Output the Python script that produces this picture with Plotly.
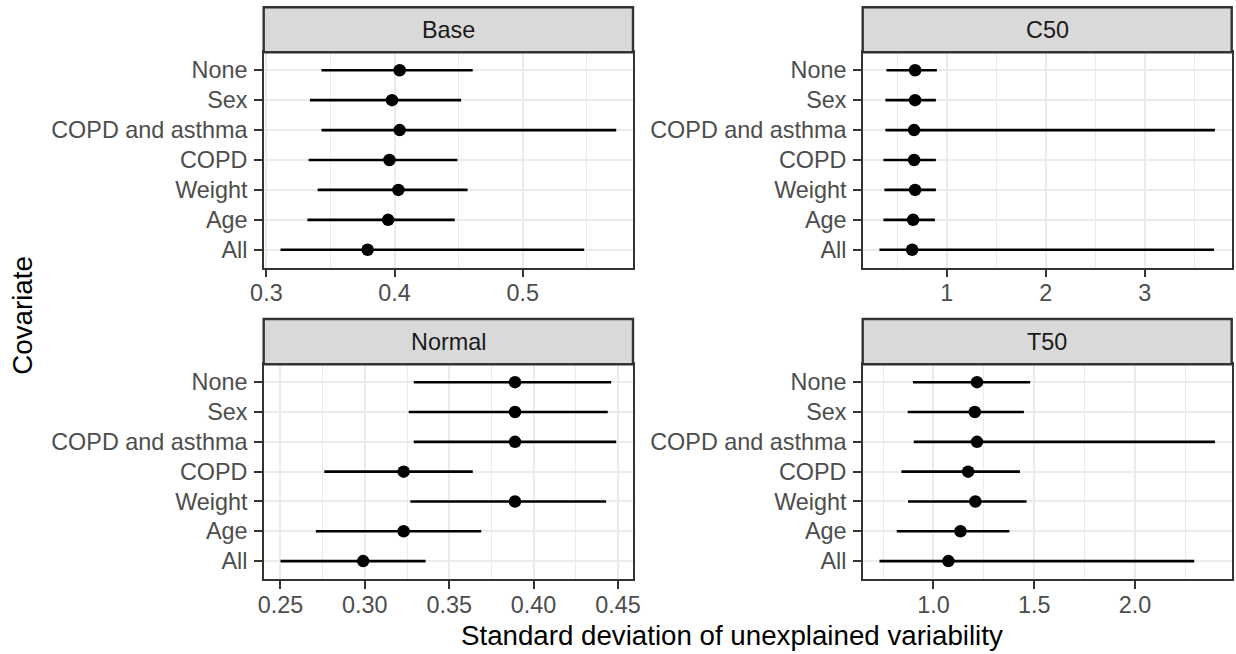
import plotly.graph_objects as go

W, H = 1236, 654

covariates = ["None", "Sex", "COPD and asthma", "COPD", "Weight", "Age", "All"]

base_est = [0.404, 0.398, 0.404, 0.396, 0.403, 0.395, 0.379]
base_lo = [0.343, 0.334, 0.343, 0.333, 0.340, 0.332, 0.311]
base_hi = [0.461, 0.452, 0.573, 0.449, 0.457, 0.447, 0.548]

c50_est = [0.68, 0.68, 0.67, 0.67, 0.68, 0.66, 0.65]
c50_lo = [0.39, 0.38, 0.38, 0.36, 0.37, 0.36, 0.32]
c50_hi = [0.90, 0.89, 3.71, 0.89, 0.89, 0.88, 3.70]

normal_est = [0.389, 0.389, 0.389, 0.323, 0.389, 0.323, 0.299]
normal_lo = [0.329, 0.326, 0.329, 0.276, 0.327, 0.271, 0.250]
normal_hi = [0.446, 0.444, 0.449, 0.364, 0.443, 0.369, 0.336]

t50_est = [1.216, 1.205, 1.216, 1.172, 1.208, 1.134, 1.074]
t50_lo = [0.898, 0.872, 0.902, 0.841, 0.874, 0.818, 0.732]
t50_hi = [1.480, 1.449, 2.397, 1.429, 1.462, 1.377, 2.294]

base_ticks = [0.3, 0.4, 0.5]
base_ticktext = ["0.3", "0.4", "0.5"]
base_minor = [0.25, 0.35, 0.45, 0.55]
c50_ticks = [1, 2, 3]
c50_ticktext = ["1", "2", "3"]
c50_minor = [0.5, 1.5, 2.5, 3.5]
normal_ticks = [0.25, 0.30, 0.35, 0.40, 0.45]
normal_ticktext = ["0.25", "0.30", "0.35", "0.40", "0.45"]
normal_minor = [0.225, 0.275, 0.325, 0.375, 0.425, 0.475]
t50_ticks = [1.0, 1.5, 2.0]
t50_ticktext = ["1.0", "1.5", "2.0"]
t50_minor = [0.75, 1.25, 1.75, 2.25]

panels = [
    ("Base", base_est, base_lo, base_hi, base_ticks, base_ticktext, base_minor),
    ("C50", c50_est, c50_lo, c50_hi, c50_ticks, c50_ticktext, c50_minor),
    ("Normal", normal_est, normal_lo, normal_hi, normal_ticks, normal_ticktext, normal_minor),
    ("T50", t50_est, t50_lo, t50_hi, t50_ticks, t50_ticktext, t50_minor),
]

FONT = "Liberation Sans, Arial, sans-serif"
TICKFS = 23.4
TITLEFS = 27.7
BORDER = "#333333"
GRID = "#EBEBEB"

# pixel layout (from top-left)
col_x = [(263.7, 633.0), (862.7, 1231.7)]
row_y = [(52.3, 267.7), (364.3, 579.0)]
strip_y = [(7.3, 52.3), (319.0, 364.3)]

def px_x(x):
    return x / W

def px_y(y):
    return 1 - y / H

fig = go.Figure()
layout = dict(
    width=W, height=H, autosize=False,
    margin=dict(l=0, r=0, t=0, b=0, pad=0),
    paper_bgcolor="white", plot_bgcolor="white",
    showlegend=False,
    font=dict(family=FONT, color="#4D4D4D", size=TICKFS),
)
shapes = []
annotations = []
order_bottom_up = covariates[::-1]

for i, (name, est, lo, hi, ticks, ticktext, minor) in enumerate(panels):
    r, c = divmod(i, 2)
    n = i + 1
    xa = "x" if n == 1 else f"x{n}"
    ya = "y" if n == 1 else f"y{n}"
    xkey = "xaxis" if n == 1 else f"xaxis{n}"
    ykey = "yaxis" if n == 1 else f"yaxis{n}"

    dmin = min(lo + est)
    dmax = max(hi + est)
    pad = 0.05 * (dmax - dmin)
    xr = [dmin - pad, dmax + pad]

    fig.add_trace(go.Scatter(
        x=est, y=covariates, xaxis=xa, yaxis=ya, mode="markers",
        marker=dict(color="black", size=12.5),
        error_x=dict(type="data", symmetric=False,
                     array=[h - e for h, e in zip(hi, est)],
                     arrayminus=[e - l for e, l in zip(est, lo)],
                     color="black", thickness=2.6, width=0),
        hoverinfo="x+y",
    ))

    x0, x1 = col_x[c]
    y0, y1 = row_y[r]
    layout[xkey] = dict(
        domain=[px_x(x0), px_x(x1)], anchor=ya, range=xr, automargin=False,
        tickmode="array", tickvals=ticks, ticktext=ticktext,
        showgrid=True, gridcolor=GRID, gridwidth=2.2, zeroline=False,
        ticks="outside", ticklen=7.3, tickwidth=2, tickcolor=BORDER,
        ticklabelstandoff=-4,
        showline=True, mirror=True, linecolor=BORDER, linewidth=2.4,
        tickfont=dict(family=FONT, size=TICKFS, color="#4D4D4D"),
        minor=dict(tickvals=minor, showgrid=True, gridcolor=GRID,
                   gridwidth=1.1, ticks=""),
        fixedrange=True,
    )
    layout[ykey] = dict(
        domain=[px_y(y1), px_y(y0)], anchor=xa, type="category", automargin=False,
        categoryorder="array", categoryarray=order_bottom_up,
        range=[-0.6, len(covariates) - 0.4],
        showgrid=True, gridcolor=GRID, gridwidth=2.2, zeroline=False,
        ticks="outside", ticklen=7.3, tickwidth=2, tickcolor=BORDER,
        ticklabelstandoff=2,
        showline=True, mirror=True, linecolor=BORDER, linewidth=2.4,
        tickfont=dict(family=FONT, size=TICKFS, color="#4D4D4D"),
        fixedrange=True,
    )

    sy0, sy1 = strip_y[r]
    shapes.append(dict(
        type="rect", xref="paper", yref="paper",
        x0=px_x(x0), x1=px_x(x1), y0=px_y(sy1), y1=px_y(sy0),
        fillcolor="#D9D9D9", line=dict(color=BORDER, width=2.4), layer="above",
    ))
    annotations.append(dict(
        text=name, xref="paper", yref="paper",
        x=px_x((x0 + x1) / 2), y=px_y((sy0 + sy1) / 2),
        xanchor="center", yanchor="middle", showarrow=False,
        font=dict(family=FONT, size=TICKFS, color="#1A1A1A"),
    ))

annotations.append(dict(
    text="Standard deviation of unexplained variability",
    xref="paper", yref="paper",
    x=px_x(732), y=px_y(635),
    xanchor="center", yanchor="middle", showarrow=False,
    font=dict(family=FONT, size=TITLEFS, color="black"),
))
annotations.append(dict(
    text="Covariate", xref="paper", yref="paper",
    x=px_x(23), y=px_y((row_y[0][0] + row_y[1][1]) / 2),
    xanchor="center", yanchor="middle", showarrow=False, textangle=-90,
    font=dict(family=FONT, size=TITLEFS, color="black"),
))

layout["shapes"] = shapes
layout["annotations"] = annotations
fig.update_layout(**layout)
fig.write_html("out.html")
